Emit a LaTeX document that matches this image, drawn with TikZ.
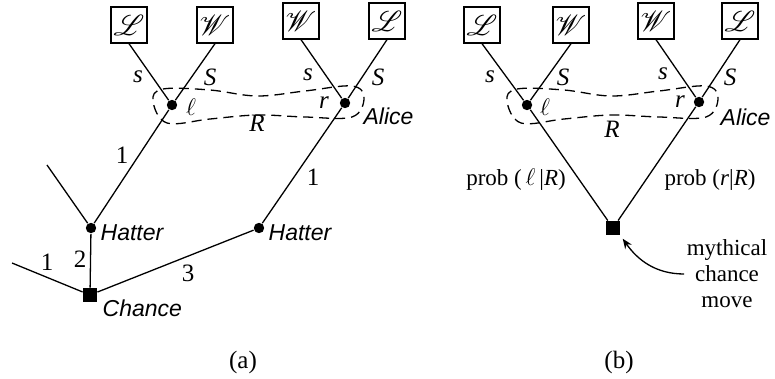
\documentclass[tikz,border=0pt]{standalone}
\usepackage{fontspec}
\setmainfont{Liberation Serif}
\newfontfamily\handfont{Liberation Sans}
\usepackage{mathrsfs}
\usetikzlibrary{arrows.meta}
\begin{document}
\begin{tikzpicture}[x=0.5pt,y=-0.5pt, line width=0.65pt,
  every node/.style={font=\fontsize{11.5}{13}\selectfont},
  outbox/.style={draw, minimum size=18pt, inner sep=0pt, font=\fontsize{14}{16}\selectfont},
  dot/.style={circle, fill, inner sep=0pt, minimum size=5.2pt},
  sqnode/.style={fill, inner sep=0pt, minimum size=6.8pt},
  lab/.style={inner sep=0pt, font=\fontsize{12.5}{14}\selectfont},
  who/.style={inner sep=0pt, anchor=west, font=\handfont\itshape\fontsize{11.5}{13}\selectfont},
  infoset/.style={dash pattern=on 5pt off 3pt}]
\useasboundingbox (0,0) rectangle (775,379);

% ---------- panel (a) ----------
\node[outbox] (aL1) at (129,25) {$\mathscr{L}$};
\node[outbox] (aW1) at (215,25) {$\mathscr{W}$};
\node[outbox] (aW2) at (301,21) {$\mathscr{W}$};
\node[outbox] (aL2) at (387,21) {$\mathscr{L}$};
\node[dot] (al) at (172,105) {};
\node[dot] (ar) at (345,103) {};
\node[dot] (ah1) at (91,228) {};
\node[dot] (ah2) at (259,228) {};
\node[sqnode] (ac) at (90,295) {};
\coordinate (ae1) at (47,165);
\coordinate (ae2) at (12,263);

\draw (aL1.south) -- (al);
\draw (aW1.south) -- (al);
\draw (aW2.south) -- (ar);
\draw (aL2.south) -- (ar);
\draw (al) -- (ah1);
\draw (ae1) -- (ah1);
\draw (ar) -- (ah2);
\draw (ah1) -- (ac);
\draw (ac) -- (ah2);
\draw (ac) -- (ae2);

\draw[infoset] plot[smooth cycle, tension=0.6] coordinates {(153,101) (163,89) (210,90) (257,96) (305,91) (352,86) (364,98) (352,117) (305,117) (257,115) (210,119) (167,123)};

\node[lab] (as1) at (138,77) {\textit{s}};
\node[lab] (aS1) at (210,77) {\textit{S}};
\node[lab] (as2) at (308,75) {\textit{s}};
\node[lab] (aS2) at (378,77) {\textit{S}};
\node[lab] (alab) at (191,107) {$\ell$};
\node[lab] (arlab) at (324,103) {\textit{r}};
\node[lab] (aR) at (257,123) {\textit{R}};
\node[who] (aalice) at (363,116) {Alice};
\node[lab] (a1a) at (122,155) {1};
\node[lab] (a1b) at (313,177) {1};
\node[who] (ahat1) at (100,233) {Hatter};
\node[who] (ahat2) at (268,233) {Hatter};
\node[lab] (a2) at (80,259) {2};
\node[lab] (a1c) at (47,262) {1};
\node[lab] (a3) at (188,273) {3};
\node[who] (achance) at (102,308) {Chance};
\node[lab] (acap) at (243,362) {(a)};

% ---------- panel (b) ----------
\node[outbox] (bL1) at (482,25) {$\mathscr{L}$};
\node[outbox] (bW1) at (571,25) {$\mathscr{W}$};
\node[outbox] (bW2) at (656,21) {$\mathscr{W}$};
\node[outbox] (bL2) at (740,21) {$\mathscr{L}$};
\node[dot] (bl) at (527,105) {};
\node[dot] (br) at (699,102) {};
\node[sqnode] (bc) at (613,228) {};

\draw (bL1.south) -- (bl) -- (bc);
\draw (bW1.south) -- (bl);
\draw (bW2.south) -- (br);
\draw (bL2.south) -- (br) -- (bc);

\begin{scope}[xshift=177pt]
\draw[infoset] plot[smooth cycle, tension=0.6] coordinates {(153,101) (163,89) (210,90) (257,96) (305,91) (352,86) (364,98) (352,117) (305,117) (257,115) (210,119) (167,123)};
\end{scope}

\node[lab] (bs1) at (490,77) {\textit{s}};
\node[lab] (bS1) at (563,77) {\textit{S}};
\node[lab] (bs2) at (663,74) {\textit{s}};
\node[lab] (bS2) at (730,77) {\textit{S}};
\node[lab] (bllab) at (545,107) {$\ell$};
\node[lab] (brlab) at (680,102) {\textit{r}};
\node[lab] (bR) at (612,129) {\textit{R}};
\node[who] (balice) at (720,117) {Alice};
\node[inner sep=0pt] (bprobl) at (516,180) {prob (\,$\ell$\,|\textit{R})};
\node[inner sep=0pt] (bprobr) at (710,180) {prob (\textit{r}|\textit{R})};
\node[align=center, inner sep=1pt] (myth) at (727,274) {mythical\\chance\\move};
\draw[-{Stealth[length=5pt,width=4pt]}, shorten >=2pt] (myth.west) to[out=180, in=-55] (bc.south east);
\node[lab] (bcap) at (619,362) {(b)};
\end{tikzpicture}
\end{document}
